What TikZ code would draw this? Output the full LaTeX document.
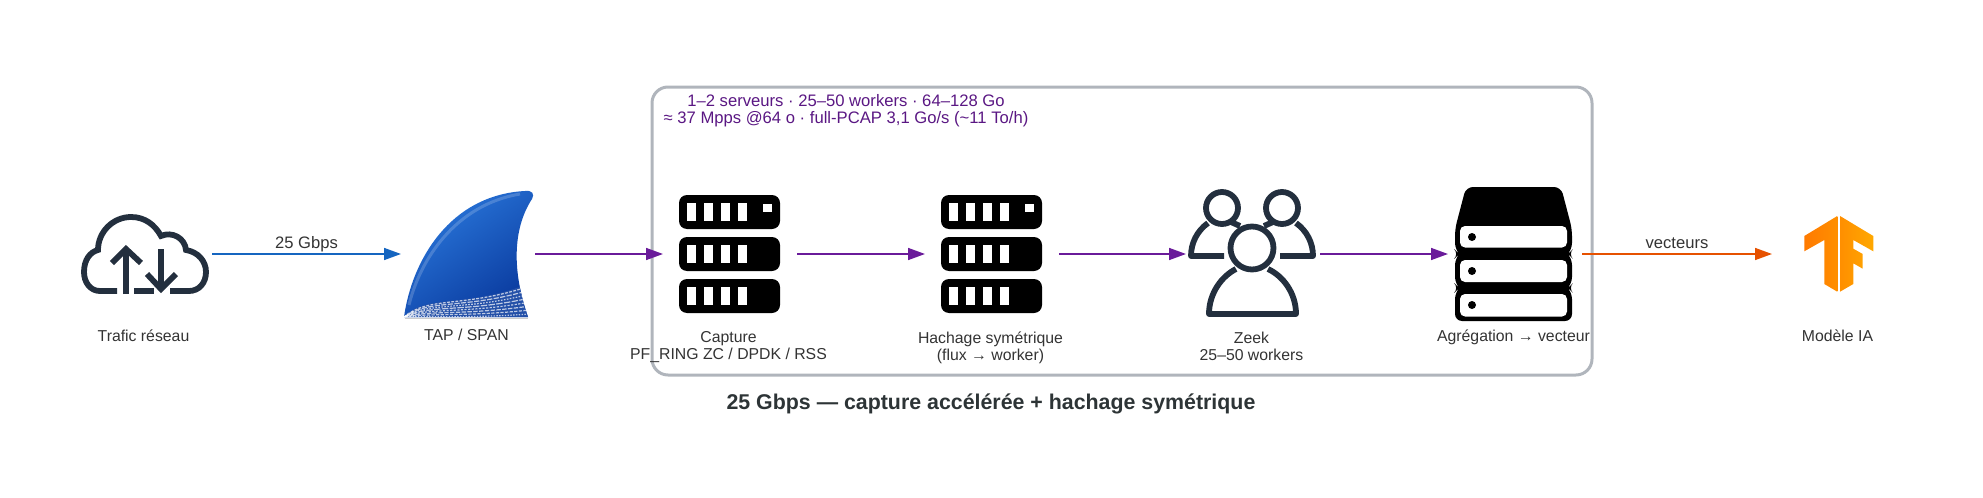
\documentclass[tikz,border=0pt]{standalone}
\usepackage{fontspec}
\setmainfont{Liberation Sans}
\usetikzlibrary{arrows.meta,positioning}

\definecolor{inkdark}{HTML}{232F3E}
\definecolor{textgrey}{HTML}{333333}
\definecolor{boxgrey}{HTML}{B0B5BC}
\definecolor{flowblue}{HTML}{1565C0}
\definecolor{flowpurple}{HTML}{6A1B9A}
\definecolor{floworange}{HTML}{E65100}
\definecolor{titlegrey}{HTML}{2D3436}
\definecolor{finlight}{HTML}{2A78DC}
\definecolor{findark}{HTML}{0A3A9E}
\definecolor{finwave}{HTML}{2450A8}
\definecolor{tfdeep}{HTML}{FF7A00}
\definecolor{tfmid}{HTML}{FF8F00}
\definecolor{tflight}{HTML}{FFA800}

\begin{document}
\begin{tikzpicture}[
  x=0.5pt,y=-0.5pt,
  icon/.style={minimum size=67pt,inner sep=0pt,outer sep=0pt},
  lbl/.style={font=\fontsize{7.9}{8.5}\selectfont,text=textgrey,align=center,inner sep=0pt,xshift=-0.75pt},
  edgelbl/.style={font=\fontsize{8.3}{9}\selectfont,text=textgrey,inner sep=2.5pt,text depth=0pt},
  arr/.style={line width=0.8pt,-{Triangle[length=8.5pt,width=6pt]}},
  outline/.style={draw=inkdark,line width=2.9pt},
]
  \useasboundingbox (0,0) rectangle (1983,498);

  \node[draw=boxgrey,line width=1.5pt,rounded corners=8pt,minimum width=470pt,minimum height=144pt,
    inner sep=0pt] (cluster) at (1122,231) {};
  \node[font=\fontsize{8.32}{8.7}\selectfont,text=flowpurple!85!black,align=center,inner sep=0pt] (sizing) at (846,110.5)
    {1–2 serveurs · 25–50 workers · 64–128 Go\\≈ 37 Mpps @64 o · full-PCAP 3,1 Go/s (\textasciitilde 11 To/h)};

  \node[icon] (cloud) at (145,254) {};
  \node[icon] (fin) at (468,254) {};
  \node[icon] (capture) at (730,254) {};
  \node[icon] (hash) at (992,254) {};
  \node[icon] (zeek) at (1253,254) {};
  \node[icon] (agg) at (1515,254) {};
  \node[icon] (model) at (1839,254) {};

  % cloud
  \draw[outline,line cap=butt] (117,291) -- (100,291) .. controls (90,291) and (84,282) .. (84,272)
    .. controls (84,260) and (90,252) .. (98,250) .. controls (98,232) and (113,217) .. (131,217)
    .. controls (145,217) and (155,225) .. (161,236) .. controls (172,231) and (185,238) .. (186,250)
    .. controls (198,252) and (206,261) .. (206,272) .. controls (206,283) and (199,291) .. (189,291)
    -- (170,291);
  \draw[outline] (126,294) -- (126,249);
  \draw[outline] (112,263) -- (126,249) -- (141,263);
  \draw[outline] (161,249) -- (161,289);
  \draw[outline] (147,274) -- (161,289) -- (176,274);
  \draw[outline] (134,291) -- (154,291);

  % fin
  \shade[top color=finlight,bottom color=findark,shading angle=35]
    (404,317) .. controls (412,260) and (450,195) .. (525,191) .. controls (532,190) and (535,194) .. (532,199)
    .. controls (515,225) and (510,265) .. (528,317) -- cycle;
  \begin{scope}
    \clip (404,317) .. controls (412,260) and (450,195) .. (525,191) .. controls (532,190) and (535,194) .. (532,199)
      .. controls (515,225) and (510,265) .. (528,317) -- cycle;
    \draw[white,opacity=0.18,line width=1.5pt] (409,305) .. controls (420,260) and (455,205) .. (520,194);
    \fill[finwave] (404,317) .. controls (425,294) and (465,308) .. (525,285) -- (535,317) -- cycle;
    \foreach \k/\d in {0/1.4,1/2.6,2/0.8,3/3.2,4/1.1,5/2.2,6/1.6,7/0.7}
      \draw[white,opacity=0.7,line width=0.6pt,dash pattern=on \d pt off 0.7pt]
        (404,317) .. controls (428,{296+\k*2.8}) and (465,{308+\k*1.5}) .. (530,{286+\k*4});
  \end{scope}
  \draw[black!20,line width=0.6pt] (405,318.5) -- (528,318.5);

  % two racks
  \foreach \cx in {729,991}{
    \foreach \ry in {195,237,279}{
      \fill[black,rounded corners=4pt] (\cx-50,\ry) rectangle (\cx+51,\ry+34);
      \foreach \sx in {-42,-25,-8,9}
        \fill[white] (\cx+\sx,\ry+8) rectangle (\cx+\sx+9,\ry+26);
    }
    \fill[white] (\cx+34,203.5) rectangle (\cx+43,212);
  }

  % workers
  \draw[outline] (1222,208) circle [radius=16];
  \draw[outline] (1282,208) circle [radius=16];
  \draw[outline,line join=round] (1224,256) -- (1191,256) .. controls (1191,243) and (1197,231) .. (1208,223);
  \draw[outline] (1231,222) -- (1240,226);
  \draw[outline,line join=round] (1280,256) -- (1313,256) .. controls (1313,243) and (1307,231) .. (1296,223);
  \draw[outline] (1273,222) -- (1264,226);
  \draw[outline] (1252,248) circle [radius=21.5];
  \draw[outline,line join=round] (1236,269) .. controls (1222,276) and (1209,293) .. (1209,314)
    -- (1296,314) .. controls (1296,293) and (1283,276) .. (1268,269);

  % storage stack
  \fill[black,rounded corners=3.5pt] (1466,187) -- (1561,187) -- (1572,229) -- (1572,250) -- (1568,254)
    -- (1572,258) -- (1572,284) -- (1568,288) -- (1572,292) -- (1572,321) -- (1455,321) -- (1455,292)
    -- (1459,288) -- (1455,284) -- (1455,258) -- (1459,254) -- (1455,250) -- (1455,229) -- cycle;
  \foreach \ry/\rh in {226/21.5,260/22,294/22.5}{
    \fill[white,rounded corners=2.5pt] (1460,\ry) rectangle (1567,\ry+\rh);
    \fill[black] (1472,\ry+11) circle [radius=4];
  }

  % tensorflow mark
  \shade[left color=tfdeep,right color=tfmid]
    (1837.3,216) -- (1804.3,236) -- (1804.3,251.3) -- (1824.3,240) -- (1824.3,284) -- (1837.3,291.7) -- cycle;
  \shade[left color=tfmid,right color=tflight]
    (1840,216) -- (1873.3,236) -- (1873.3,251.3) -- (1853.3,240) -- (1853.3,248.7) -- (1862.7,254)
    -- (1862.7,268.7) -- (1853.3,263.3) -- (1853.3,284) -- (1840,291.7) -- cycle;

  \node[lbl,below=4pt of cloud.south] (cloudlbl) {Trafic réseau};
  \node[lbl,below=4pt of fin.south] (finlbl) {TAP / SPAN};
  \node[lbl,below=5.25pt of capture.south] (capturelbl) {Capture\\PF\_RING ZC / DPDK / RSS};
  \node[lbl,below=5.25pt of hash.south] (hashlbl) {Hachage symétrique\\(flux → worker)};
  \node[lbl,below=5.25pt of zeek.south] (zeeklbl) {Zeek\\25–50 workers};
  \node[lbl,below=4pt of agg.south] (agglbl) {Agrégation → vecteur};
  \node[lbl,below=4pt of model.south] (modellbl) {Modèle IA};

  \draw[arr,flowblue] (cloud) -- node[edgelbl,above] {25 Gbps} (fin);
  \draw[arr,flowpurple] (fin) -- (capture);
  \draw[arr,flowpurple] (capture) -- (hash);
  \draw[arr,flowpurple] (hash) -- (zeek);
  \draw[arr,flowpurple] (zeek) -- (agg);
  \draw[arr,floworange] (agg) -- node[edgelbl,above] {vecteurs} (model);

  \node[font=\fontsize{10.68}{12}\selectfont\bfseries,text=titlegrey,inner sep=0pt] (title) at (991,404)
    {25 Gbps — capture accélérée + hachage symétrique};
\end{tikzpicture}
\end{document}
